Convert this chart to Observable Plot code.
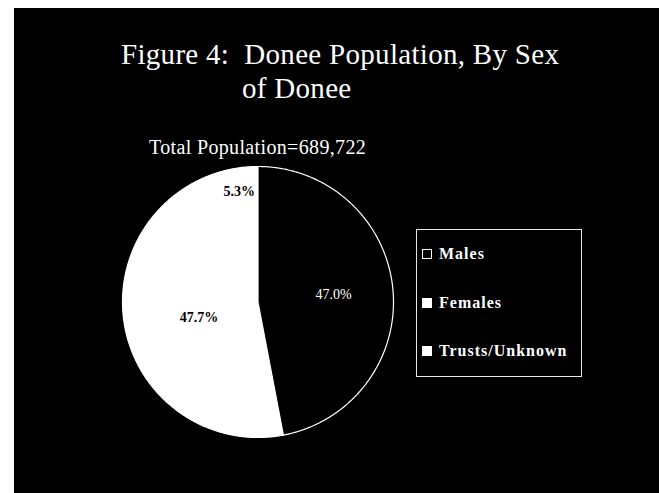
<!DOCTYPE html>
<html>
<head>
<meta charset="utf-8">
<script src="https://cdn.jsdelivr.net/npm/d3@7"></script>
<script src="https://cdn.jsdelivr.net/npm/@observablehq/plot@0.6"></script>
<style>
html, body { margin: 0; padding: 0; background: #fff; width: 659px; height: 493px; overflow: hidden; }
body { position: relative; font-family: "Liberation Serif", "DejaVu Serif", serif; }
#panel { position: absolute; left: 14px; top: 8px; width: 645px; height: 485px; background: #000; }
.txt { position: absolute; white-space: pre; color: #fff; line-height: 1; }
#pie { position: absolute; left: 117px; top: 161px; }
#legend { position: absolute; left: 416px; top: 229px; width: 164px; height: 146px; border: 1px solid #e6e6e6; }
.sw { position: absolute; width: 9px; height: 9px; }
.lt { position: absolute; white-space: pre; color: #fff; font-size: 16px; font-weight: bold; letter-spacing: 1px; line-height: 1; }
</style>
</head>
<body>
<div id="panel"></div>
<div class="txt" style="left:121px;top:40px;font-size:29px;letter-spacing:0.3px;">Figure 4:  Donee Population, By Sex</div>
<div class="txt" style="left:242px;top:74px;font-size:29px;letter-spacing:0.3px;">of Donee</div>
<div class="txt" style="left:149px;top:137px;font-size:20px;letter-spacing:0.35px;">Total Population=689,722</div>
<div id="pie"></div>
<div id="legend"></div>
<script>
// ---- data ----
const categories = ["Males", "Females", "Trusts/Unknown"];
const shares = [47.0, 47.7, 5.3];
const labels = ["47.0%", "47.7%", "5.3%"];

// ---- styling ----
const sliceFill = {"Males": "#000", "Females": "#fff", "Trusts/Unknown": "#fff"};
const labelRadius = {"Males": 0.56, "Females": 0.45, "Trusts/Unknown": 0.83};

const total = d3.sum(shares);
let acc = 0;
const slices = categories.map((name, i) => {
  const a0 = acc / total * 2 * Math.PI;
  acc += shares[i];
  const a1 = acc / total * 2 * Math.PI;
  return {name, value: shares[i], label: labels[i], a0, a1, mid: (a0 + a1) / 2};
});

const pts = [];
for (const s of slices) {
  pts.push({name: s.name, x: 0, y: 0});
  const n = Math.max(2, Math.ceil((s.a1 - s.a0) / (Math.PI / 360)));
  for (let k = 0; k <= n; k++) {
    const a = s.a0 + (s.a1 - s.a0) * k / n;
    pts.push({name: s.name, x: Math.sin(a), y: Math.cos(a)});
  }
}

const labelPts = slices.map(s => ({
  name: s.name, label: s.label,
  x: labelRadius[s.name] * Math.sin(s.mid),
  y: labelRadius[s.name] * Math.cos(s.mid)
}));

const chart = Plot.plot({
  width: 281, height: 281,
  margin: 5,
  style: {background: "transparent", overflow: "visible"},
  x: {domain: [-1, 1], axis: null},
  y: {domain: [-1, 1], axis: null},
  marks: [
    Plot.line(pts.filter(d => d.name !== "Males"), {x: "x", y: "y", z: "name", fill: d => sliceFill[d.name], stroke: "#fff", strokeWidth: 1.2, curve: "linear-closed"}),
    Plot.line(pts.filter(d => d.name === "Males"), {x: "x", y: "y", z: "name", fill: d => sliceFill[d.name], stroke: "#fff", strokeWidth: 1.2, curve: "linear-closed"}),
    Plot.text(labelPts.filter(d => d.name === "Males"), {x: "x", y: "y", text: "label", fill: "#fff", fontSize: 14, fontFamily: "Liberation Serif"}),
    Plot.text(labelPts.filter(d => d.name !== "Males"), {x: "x", y: "y", text: "label", fill: "#000", fontSize: 14, fontWeight: "bold", fontFamily: "Liberation Serif"})
  ]
});
document.getElementById("pie").appendChild(chart);

// ---- legend ----
const legend = document.getElementById("legend");
categories.forEach((name, i) => {
  const sw = document.createElement("div");
  sw.className = "sw";
  sw.style.left = "5px";
  sw.style.top = (19 + i * 48.5) + "px";
  if (sliceFill[name] === "#000") {
    sw.style.border = "1px solid #fff";
    sw.style.background = "#000";
    sw.style.width = "8px"; sw.style.height = "8px";
  } else {
    sw.style.background = "#fff";
    sw.style.width = "10px"; sw.style.height = "10px";
  }
  legend.appendChild(sw);
  const t = document.createElement("div");
  t.className = "lt";
  t.style.left = "22px";
  t.style.top = (16 + i * 48.5) + "px";
  t.textContent = name;
  legend.appendChild(t);
});
</script>
</body>
</html>
